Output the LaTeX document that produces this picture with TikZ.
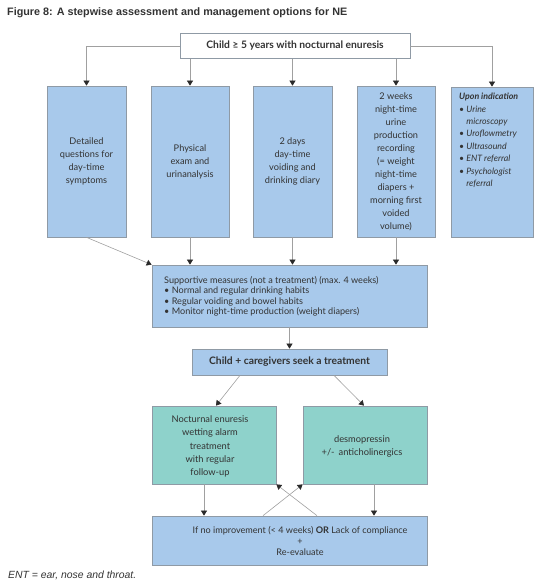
\documentclass[tikz,border=0pt]{standalone}
\usepackage{fontspec}
\setmainfont{Lato}
\newfontfamily\titlefont{Liberation Sans}
\usetikzlibrary{arrows.meta,calc}
\definecolor{boxblue}{HTML}{A8C9EB}
\definecolor{boxgreen}{HTML}{8ED2CB}
\definecolor{edgegray}{HTML}{8F9AA5}
\definecolor{linegray}{HTML}{A0A0A0}
\definecolor{tipcol}{HTML}{2A2A2A}
\definecolor{txt}{HTML}{333333}
\tikzset{
  bx/.style={draw=edgegray, line width=0.7pt, fill=boxblue, align=center, text=txt,
    font=\fontsize{9.2}{13}\selectfont, inner sep=0pt},
  gbx/.style={bx, fill=boxgreen},
  conn/.style={draw=linegray, line width=0.6pt},
  arr/.style={conn, -{Triangle[width=6pt,length=5pt,color=tipcol]}},
}
\begin{document}
\begin{tikzpicture}[x=1pt,y=-1pt]
\useasboundingbox (0,0) rectangle (540,587);
% title
\node[anchor=west, inner sep=0pt, font=\titlefont\bfseries\fontsize{10.8}{12}\selectfont, text=txt] (title) at (7,13) {Figure 8: A stepwise assessment and management options for NE};
% top
\node[bx, fill=white, minimum width=230pt, minimum height=25pt, font=\bfseries\fontsize{10.3}{12}\selectfont] (top) at (295,46) {Child ≥ 5 years with nocturnal enuresis};
% row of boxes
\node[bx, minimum width=79pt, minimum height=151pt] (b1) at (86.5,161.5) {Detailed\\questions for\\day-time\\symptoms};
\node[bx, minimum width=78pt, minimum height=151pt] (b2) at (190,161.5) {Physical\\exam and\\urinanalysis};
\node[bx, minimum width=79pt, minimum height=151pt] (b3) at (292.5,161.5) {2 days\\day-time\\voiding and\\drinking diary};
\node[bx, minimum width=78pt, minimum height=151pt] (b4) at (396,161.5) {2 weeks\\night-time\\urine\\production\\recording\\(= weight\\night-time\\diapers +\\morning first\\voided\\volume)};
\node[bx, minimum width=82pt, minimum height=150pt] (b5) at (492,162) {};
\node[anchor=north west, inner sep=0pt, align=left, text=txt, font=\itshape\fontsize{8.8}{12.4}\selectfont] (b5t) at (459,93)
  {\textbf{Upon indication}\\
   • Urine\\
   \hphantom{• }microscopy\\
   • Uroflowmetry\\
   • Ultrasound\\
   • ENT referral\\
   • Psychologist\\
   \hphantom{• }referral};
% supportive
\node[bx, minimum width=275pt, minimum height=62pt] (sup) at (289.5,296) {};
\node[anchor=west, inner sep=0pt, align=left, text=txt, font=\fontsize{9.1}{10.5}\selectfont] (supt) at (164,296.5)
  {Supportive measures (not a treatment) (max. 4 weeks)\\
   • Normal and regular drinking habits\\
   • Regular voiding and bowel habits\\
   • Monitor night-time production (weight diapers)};
% caregivers
\node[bx, minimum width=195pt, minimum height=26pt, font=\bfseries\fontsize{10.3}{12}\selectfont] (care) at (289.5,362) {Child + caregivers seek a treatment};
% green
\node[gbx, minimum width=124pt, minimum height=78pt] (g1) at (214,445) {};
\node[inner sep=0pt, align=center, text=txt, font=\fontsize{9.3}{13.2}\selectfont] (g1t) at (210,446.5) {Nocturnal enuresis\\wetting alarm\\treatment\\with regular\\follow-up};
\node[gbx, minimum width=124pt, minimum height=78pt] (g2) at (365,445) {};
\node[inner sep=0pt, align=center, text=txt, font=\fontsize{9.3}{13.2}\selectfont] (g2t) at (362,446.5) {desmopressin\\+/-\, anticholinergics};
% bottom
\node[bx, minimum width=275pt, minimum height=49pt] (bot) at (289.5,540.5) {};
\node[inner sep=0pt, align=center, text=txt, font=\fontsize{9.1}{11}\selectfont] (bott) at (300,541.5) {If no improvement (< 4 weeks) \textbf{OR} Lack of compliance\\+\\Re-evaluate};
% footer
\node[anchor=west, inner sep=0pt, font=\titlefont\itshape\fontsize{10.4}{12}\selectfont, text=txt] (foot) at (8,575) {ENT = ear, nose and throat.};
% connectors
\draw[arr] (top.west) -| (b1.north);
\draw[arr] (top.south -| b2.north) -- (b2.north);
\draw[arr] (top.south -| b3.north) -- (b3.north);
\draw[arr] (top.south -| b4.north) -- (b4.north);
\draw[arr] (top.east) -| (b5.north);
\draw[arr] (b1.south) -- (sup.north west);
\draw[arr] (b2.south) -- (b2.south |- sup.north);
\draw[arr] (b3.south) -- (b3.south |- sup.north);
\draw[arr] (b4.south) -- (b4.south |- sup.north);
\draw[arr] (sup.south) -- (care.north);
\draw[arr] ($(care.south)+(-49.5,0)$) -- ($(g1.north)+(2,0)$);
\draw[arr] ($(care.south)+(44.5,0)$) -- ($(g2.north)+(-1,0)$);
\draw[arr] ($(g1.south)+(-10,0)$) -- ($(bot.north)+(-85.5,0)$);
\draw[arr] ($(g2.south)+(9,0)$) -- ($(bot.north)+(84.5,0)$);
\draw[arr] ($(bot.north)+(-26.5,0)$) -- (g2.south west);
\draw[arr] ($(bot.north)+(27.5,0)$) -- (g1.south east);
\end{tikzpicture}
\end{document}
